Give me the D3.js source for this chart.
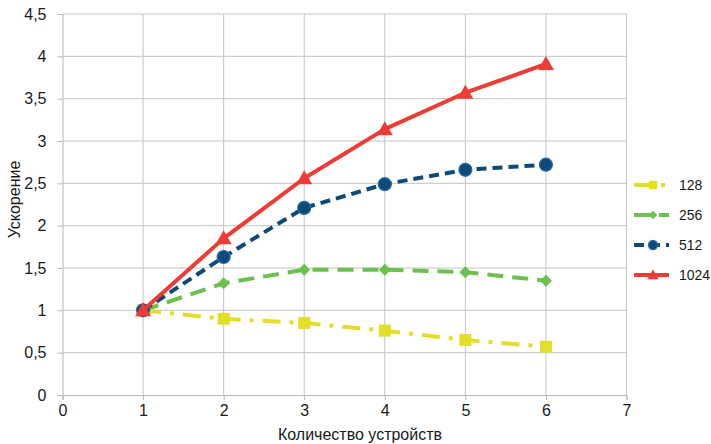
<!DOCTYPE html>
<html><head><meta charset="utf-8">
<script src="https://cdn.jsdelivr.net/npm/d3@7"></script>
<style>body{margin:0;background:#fff}svg{display:block}</style>
</head><body>
<svg id="c" width="711" height="444"></svg>
<script>
const xValues = [1, 2, 3, 4, 5, 6];
const s128 = [1, 0.90, 0.85, 0.76, 0.65, 0.57];
const s256 = [1, 1.32, 1.48, 1.48, 1.45, 1.35];
const s512 = [1, 1.63, 2.21, 2.49, 2.66, 2.72];
const s1024 = [1, 1.85, 2.56, 3.14, 3.57, 3.91];
const seriesNames = ["128", "256", "512", "1024"];
const xTicks = [0, 1, 2, 3, 4, 5, 6, 7];
const yTicks = [0, 0.5, 1, 1.5, 2, 2.5, 3, 3.5, 4, 4.5];
const xTitle = "Количество устройств";
const yTitle = "Ускорение";

const series = [
  {name: seriesNames[0], values: s128, color: "#e2de2a", dash: "18,9,4,9", marker: "square"},
  {name: seriesNames[1], values: s256, color: "#6cc04d", dash: "16,9", marker: "diamond"},
  {name: seriesNames[2], values: s512, color: "#0d4a78", dash: "10,6", marker: "circle"},
  {name: seriesNames[3], values: s1024, color: "#ee3b35", dash: null, marker: "triangle"}
];

const svg = d3.select("#c");
const m = {l: 62.5, r: 626.5, t: 14, b: 395};
const x = d3.scaleLinear().domain([0, 7]).range([m.l, m.r]);
const y = d3.scaleLinear().domain([0, 4.5]).range([m.b, m.t]);
const font = "'Liberation Sans', Arial, sans-serif";
const narrow = "'Liberation Sans Narrow', 'Liberation Sans', Arial, sans-serif";

// grid
svg.append("g").selectAll("line").data(xTicks.slice(1)).join("line")
  .attr("x1", d => x(d)).attr("x2", d => x(d)).attr("y1", m.t).attr("y2", m.b)
  .attr("stroke", "#c4c4c4").attr("stroke-width", 1);
svg.append("g").selectAll("line").data(yTicks.slice(1)).join("line")
  .attr("x1", m.l).attr("x2", m.r).attr("y1", d => y(d)).attr("y2", d => y(d))
  .attr("stroke", "#c4c4c4").attr("stroke-width", 1);

// axes
const fmt = d => String(d).replace(".", ",");
const xa = svg.append("g").attr("transform", `translate(0,${m.b})`)
  .call(d3.axisBottom(x).tickValues(xTicks).tickFormat(fmt).tickSize(5).tickPadding(5));
const ya = svg.append("g").attr("transform", `translate(${m.l},0)`)
  .call(d3.axisLeft(y).tickValues(yTicks).tickFormat(fmt).tickSize(5).tickPadding(11));
[xa, ya].forEach(a => {
  a.select(".domain").attr("stroke", "#b8b8b8");
  a.selectAll(".tick line").attr("stroke", "#b8b8b8");
  a.selectAll("text").attr("font-family", font).attr("font-size", 16).attr("fill", "#1a1a1a");
});

svg.append("text").attr("x", 360).attr("y", 440).attr("text-anchor", "middle")
  .attr("font-family", narrow).attr("font-size", 16).attr("fill", "#1a1a1a").text(xTitle);
svg.append("text").attr("transform", `translate(20,${y(2.25) - 5}) rotate(-90)`).attr("text-anchor", "middle")
  .attr("font-family", narrow).attr("font-size", 16).attr("fill", "#1a1a1a").text(yTitle);

function drawMarker(g, type, cx, cy, color, k) {
  if (type === "square") {
    g.append("rect").attr("x", cx - 6 * k).attr("y", cy - 6 * k).attr("width", 12 * k).attr("height", 12 * k).attr("fill", color);
  } else if (type === "diamond") {
    g.append("path").attr("d", `M${cx},${cy-6*k}L${cx+6*k},${cy}L${cx},${cy+6*k}L${cx-6*k},${cy}Z`).attr("fill", color);
  } else if (type === "circle") {
    g.append("circle").attr("cx", cx).attr("cy", cy).attr("r", 6.5 * k).attr("fill", color)
      .attr("stroke", "#1f6fb0").attr("stroke-width", 1.2);
  } else if (type === "triangle") {
    g.append("path").attr("d", `M${cx},${cy-8*k}L${cx+8*k},${cy+6*k}L${cx-8*k},${cy+6*k}Z`).attr("fill", color);
  }
}

const line = d3.line().x((d, i) => x(xValues[i])).y(d => y(d));
series.forEach(s => {
  const g = svg.append("g");
  g.append("path").datum(s.values).attr("d", line).attr("fill", "none")
    .attr("stroke", s.color).attr("stroke-width", 4)
    .attr("stroke-dasharray", s.dash).attr("stroke-linejoin", "round");
  s.values.forEach((v, i) => drawMarker(g, s.marker, x(xValues[i]), y(v), s.color, 1));
});

// legend
const lg = svg.append("g");
series.forEach((s, i) => {
  const ly = 185 + i * 30;
  lg.append("line").attr("x1", 634).attr("x2", 669).attr("y1", ly).attr("y2", ly)
    .attr("stroke", s.color).attr("stroke-width", 4).attr("stroke-dasharray", s.dash);
  drawMarker(lg, s.marker, 653, ly, s.color, 0.7);
  lg.append("text").attr("x", 679).attr("y", ly + 5).attr("font-family", font)
    .attr("font-size", 14).attr("fill", "#1a1a1a").text(s.name);
});
</script>
</body></html>
